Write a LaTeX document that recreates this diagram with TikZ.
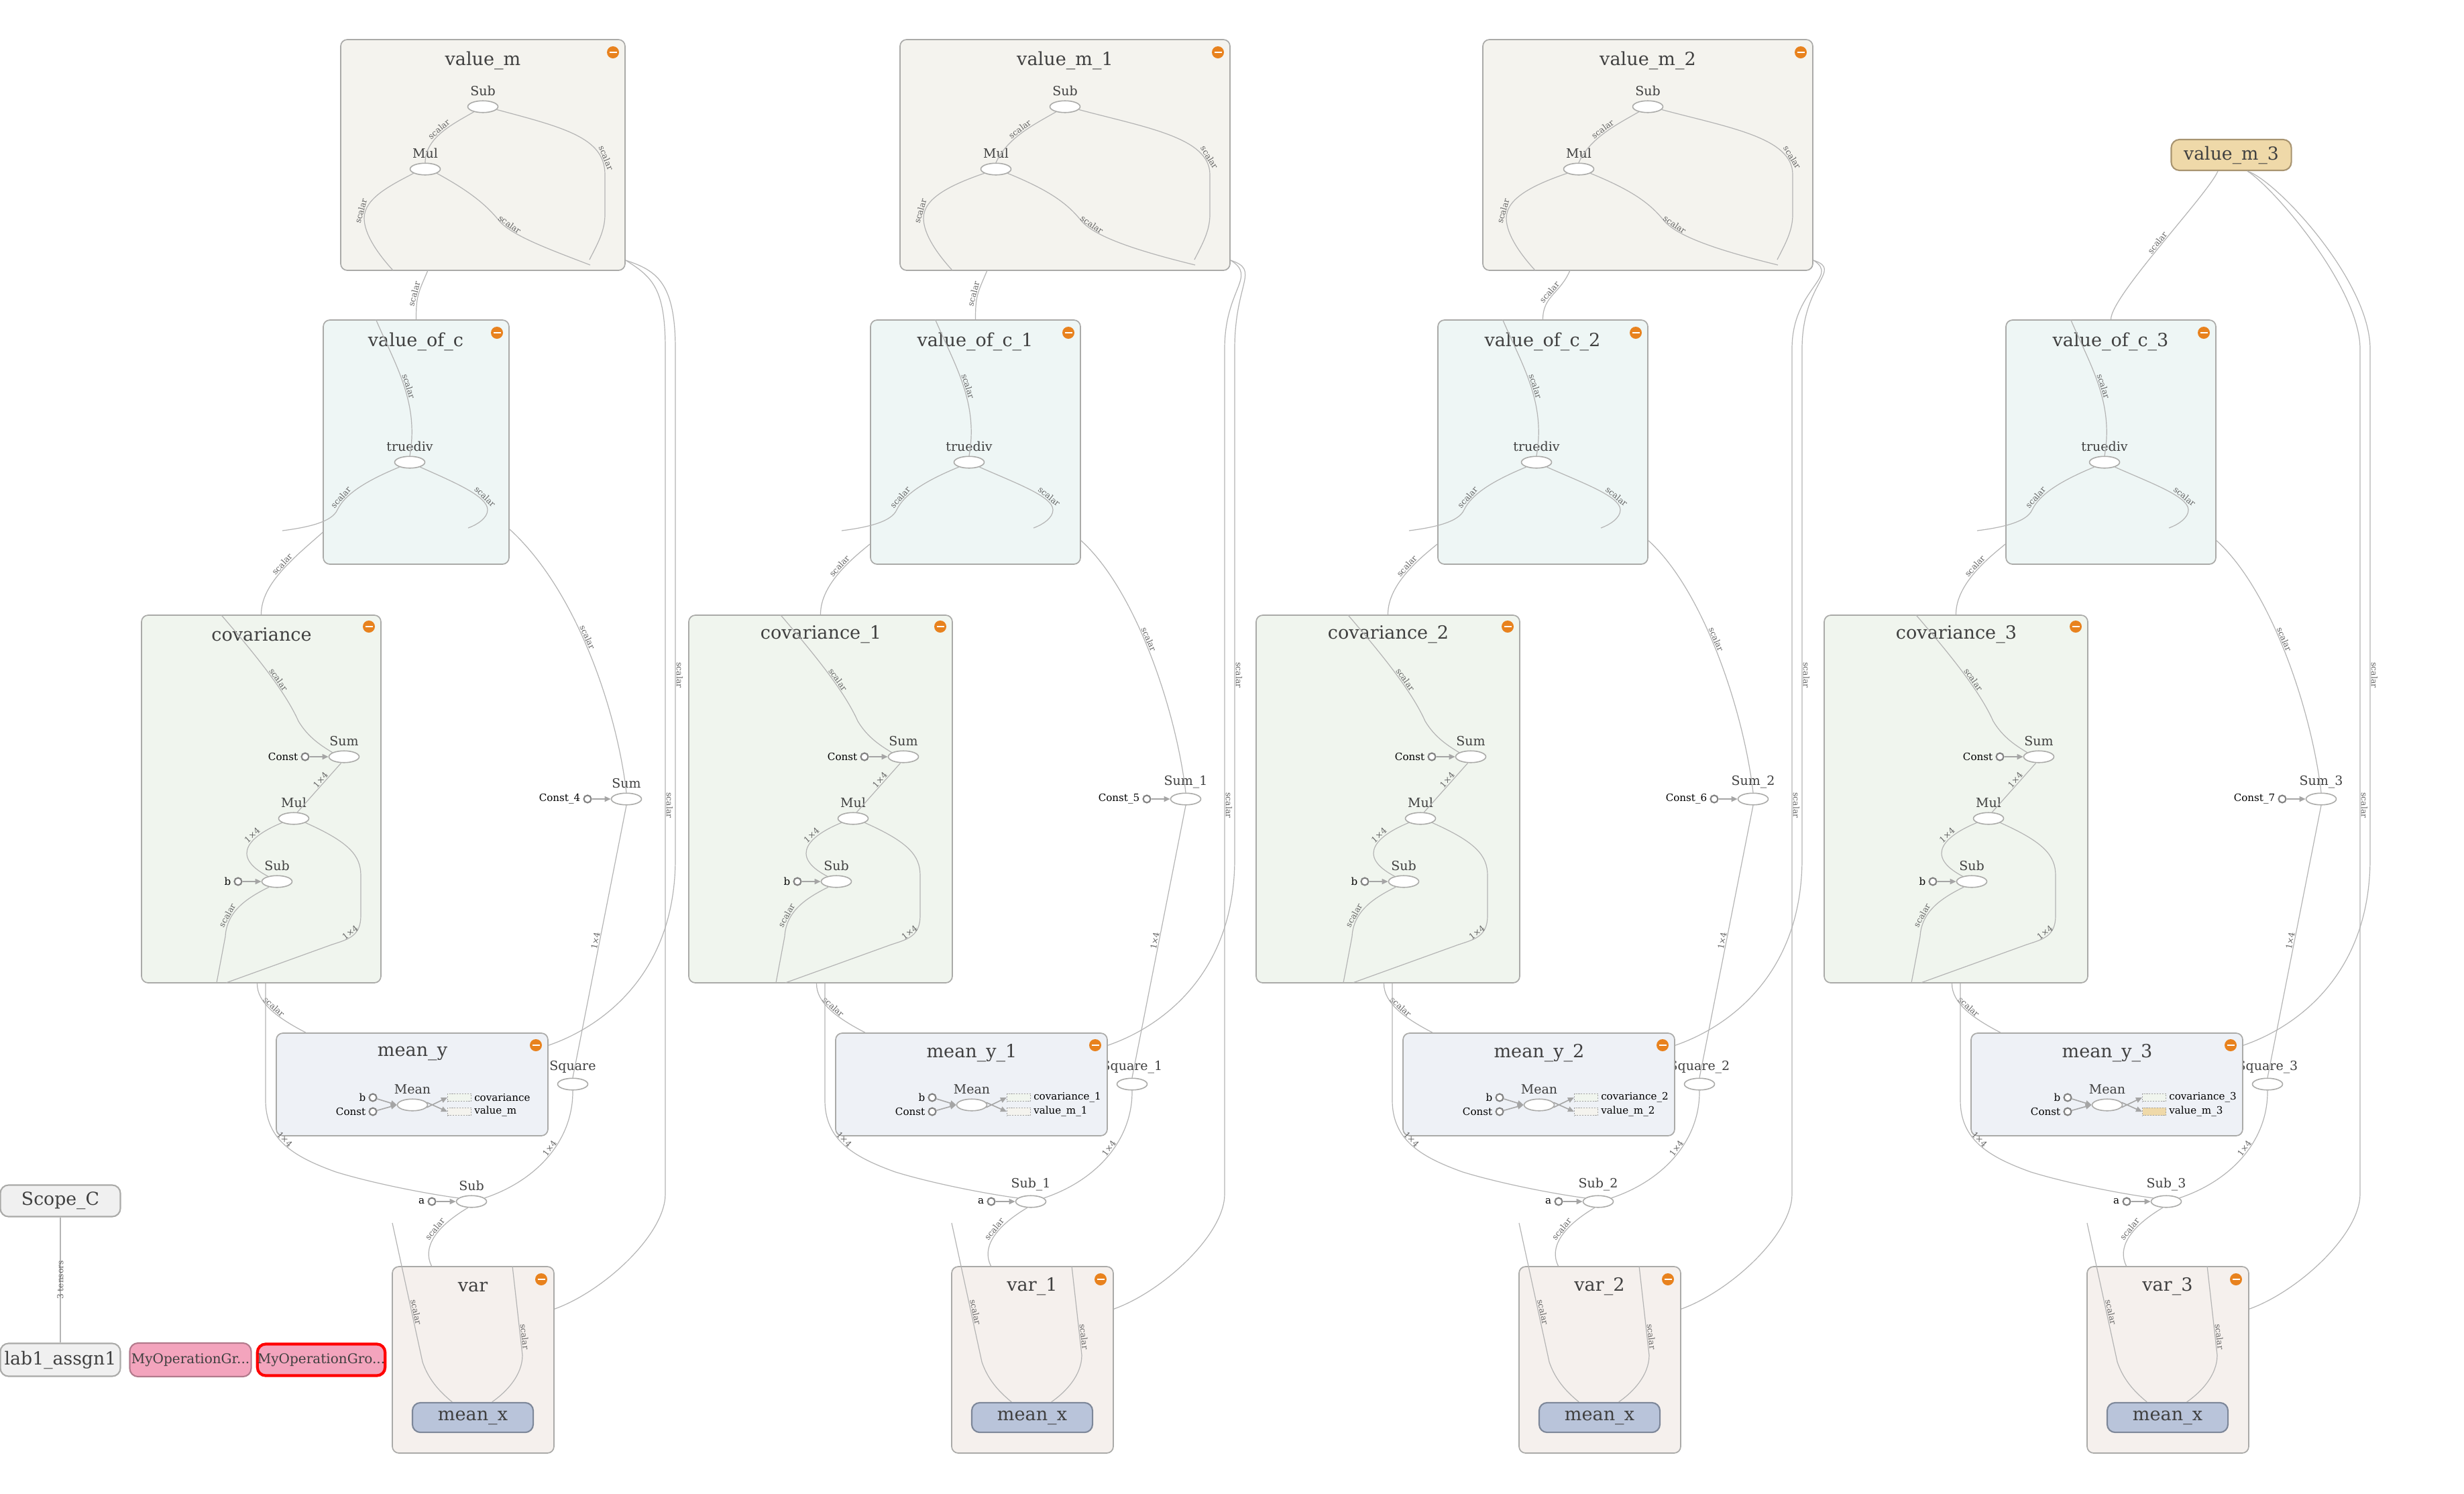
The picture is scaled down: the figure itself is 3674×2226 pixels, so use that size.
\documentclass[tikz,border=0pt]{standalone}
\usepackage{fontspec}
\setmainfont{DejaVu Serif}
\usepackage{xcolor}
\usetikzlibrary{arrows.meta,fit,shapes.geometric}
\definecolor{tbEdge}{RGB}{180,180,180}
\definecolor{tbArrow}{RGB}{165,165,165}
\definecolor{tbBorder}{RGB}{170,170,168}
\definecolor{tbText}{RGB}{64,64,64}
\definecolor{tbElab}{RGB}{100,100,100}
\definecolor{tbConst}{RGB}{130,130,130}
\definecolor{tbOrange}{RGB}{232,130,30}
\definecolor{vmFill}{RGB}{244,243,238}
\definecolor{vcFill}{RGB}{238,246,245}
\definecolor{cvFill}{RGB}{240,245,238}
\definecolor{myFill}{RGB}{238,241,246}
\definecolor{vrFill}{RGB}{245,240,237}
\definecolor{mxFill}{RGB}{185,196,218}
\definecolor{mxBorder}{RGB}{125,135,153}
\definecolor{scFill}{RGB}{240,240,240}
\definecolor{moFill}{RGB}{243,164,189}
\definecolor{moBorder}{RGB}{178,122,140}
\definecolor{vmcFill}{RGB}{239,217,169}
\definecolor{vmcBorder}{RGB}{168,148,112}
\newcommand{\sfx}[1]{\ifnum#1>0 \_#1\fi}

\begin{document}
\begin{tikzpicture}[x=0.01cm,y=-0.01cm,
  grp/.style={draw=tbBorder,line width=0.48pt,rounded corners=2.8pt,inner sep=0pt},
  ttl/.style={font=\fontsize{7.7}{9}\selectfont,text=tbText},
  op/.style={ellipse,draw=tbBorder,fill=white,line width=0.45pt,minimum width=4.5mm,minimum height=1.75mm,inner sep=0pt},
  oplab/.style={font=\fontsize{5.4}{6}\selectfont,text=tbText,inner sep=0.5pt,label distance=1.2pt},
  cst/.style={circle,draw=tbConst,fill=white,line width=0.6pt,minimum size=1.1mm,inner sep=0pt},
  cstlab/.style={font=\fontsize{4.3}{5}\selectfont,inner sep=0.6pt,label distance=0.4pt},
  edg/.style={draw=tbEdge,line width=0.34pt},
  aedg/.style={draw=tbArrow,line width=0.45pt,-{Triangle[length=0.9mm,width=0.8mm]}},
  elab/.style={font=\fontsize{3.5}{4}\selectfont,text=tbElab,sloped,above,inner sep=0.3pt},
  mns/.style={circle,fill=tbOrange,minimum size=1.8mm,inner sep=0pt,
    path picture={\draw[white,line width=0.8pt] ([xshift=0.35mm]path picture bounding box.west) -- ([xshift=-0.35mm]path picture bounding box.east);}},
  dsh/.style={draw=tbElab!60,dash pattern=on 0.6pt off 0.5pt,line width=0.3pt,minimum width=3.5mm,minimum height=1.15mm,inner sep=0pt},
  mxnode/.style={draw=mxBorder,fill=mxFill,line width=0.6pt,rounded corners=3.4pt,minimum width=1.8cm,minimum height=4.3mm,font=\fontsize{7.7}{9}\selectfont,text=tbText},
  coll/.style={rounded corners=3.5pt,line width=0.6pt,minimum height=4.6mm,inner sep=0pt,font=\fontsize{7.6}{9}\selectfont,text=tbText}]
\useasboundingbox (0,0) rectangle (3674,2226);
\fill[white] (0,0) rectangle (3674,2226);

% value_m groups
\foreach \mx/\mw/\i in {0/0/0,868/34/1,1737/34/2}{
\begin{scope}[shift={(\mx,0)}]
\node[grp,fill=vmFill,fit={(508-\mw,59) (932+\mw,403)}] (vm-\i) {};
\node[ttl] (vmt-\i) at (720,90) {value\_m\sfx{\i}};
\node[mns] at (914+\mw,78) {};
\node[op,label={[oplab]above:Sub}] (vms-\i) at (720,159) {};
\node[op,label={[oplab]above:Mul}] (vmm-\i) at (634-\mw/2,252) {};
\coordinate (vmo-\i) at (638-\mw,403);
\coordinate (vmr-\i) at (933+\mw,388);
\coordinate (vmA-\i) at (879+\mw,387);
\coordinate (vmB-\i) at (586-\mw,403);
\coordinate (vmC-\i) at (880+\mw,395);
\draw[edg] (vms-\i.210) .. controls (675,185) and (634,205) .. node[elab]{scalar} (vmm-\i.north);
\draw[edg] (vms-\i.-12) .. controls (840,190) and (902+\mw,205) .. node[elab,pos=0.85]{scalar} (902+\mw,260)
  -- (902+\mw,320) .. controls (902+\mw,345) and (890+\mw,365) .. (vmA-\i);
\draw[edg] (vmm-\i.200) .. controls (585-\mw,275) and (543-\mw,295) .. node[elab,pos=0.9]{scalar} (543-\mw,325)
  .. controls (543-\mw,350) and (565-\mw,380) .. (vmB-\i);
\draw[edg] (vmm-\i.-20) .. controls (700,285) and (725,305) .. (745,330)
  .. controls (765,352) and (820,372) .. node[elab,pos=0.15]{scalar} (vmC-\i);
\end{scope}
}
\node[coll,fill=vmcFill,draw=vmcBorder,minimum width=1.79cm] (vm-3) at (3327,231) {value\_m\_3};
\coordinate (vmo-3) at ([xshift=-2mm]vm-3.south);
\coordinate (vmr-3) at ([xshift=2.4mm]vm-3.south);

% the four columns
\foreach \dx/\w/\i/\vf in {0/0/0/vmFill,834/18/1/vmFill,1680/18/2/vmFill,2527/18/3/vmcFill}{
\pgfmathtruncatemacro{\cn}{\i+4}
\begin{scope}[shift={(\dx,0)}]
% value_of_c
\node[grp,fill=vcFill,fit={(482-\w,477) (759+\w,841)}] (vc-\i) {};
\node[ttl] at (620,509) {value\_of\_c\sfx{\i}};
\node[mns] at (741+\w,496) {};
\node[op,label={[oplab]above:truediv}] (td-\i) at (611,689) {};
\coordinate (tdL-\i) at (421,791);
\coordinate (tdR-\i) at (698+\w/2,787);
\draw[edg] ([xshift=-6mm]vc-\i.north) .. controls (590,545) and (625,600) .. node[elab,pos=0.52]{scalar} (td-\i.north);
\draw[edg] (td-\i.205) .. controls (550,715) and (515,735) .. node[elab,pos=0.8]{scalar} (503,760)
  .. controls (495,778) and (460,786) .. (tdL-\i);
\draw[edg] (td-\i.-25) .. controls (680,720) and (727+\w/2,740) .. node[elab,pos=0.75]{scalar} (727+\w/2,760)
  .. controls (727+\w/2,772) and (712+\w/2,782) .. (tdR-\i);
\draw[edg] (vmo-\i) .. controls +(-15,35) and +(0,-35) .. node[elab]{scalar} (vc-\i.north);
% covariance
\node[grp,fill=cvFill,fit={(211-\w,917) (568+\w,1465)}] (cv-\i) {};
\node[ttl] at (390,946) {covariance\sfx{\i}};
\node[mns] at (550+\w,934) {};
\node[op,label={[oplab]above:Sum}] (cs-\i) at (513,1128) {};
\node[cst,label={[cstlab]left:Const}] (cc-\i) at (455,1128) {};
\node[op,label={[oplab]above:Mul}] (cm-\i) at (438,1220) {};
\node[op,label={[oplab]above:Sub}] (cb-\i) at (413,1314) {};
\node[cst,label={[cstlab]left:b}] (cbb-\i) at (355,1314) {};
\coordinate (cvL-\i) at (323,1465);
\coordinate (cvR-\i) at (337,1465);
\draw[aedg] (cc-\i) -- (cs-\i);
\draw[aedg] (cbb-\i) -- (cb-\i);
\draw[edg] ([xshift=-6mm]cv-\i.north) .. controls (380,975) and (425,1030) .. node[elab,pos=0.6]{scalar} (445,1075)
  .. controls (460,1100) and (480,1112) .. (cs-\i.160);
\draw[edg] (cs-\i.245) -- node[elab,pos=0.4]{1×4} (cm-\i.60);
\draw[edg] (cm-\i.200) .. controls (375,1245) and (340,1275) .. node[elab,pos=0.35]{1×4} (cb-\i.150);
\draw[edg] (cb-\i.215) .. controls (365,1340) and (338,1360) .. node[elab,pos=0.7]{scalar} (336,1396) -- (cvL-\i);
\draw[edg] (cm-\i.-20) .. controls (520,1255) and (538,1275) .. (538,1305) -- (538,1365)
  .. controls (538,1395) and (520,1400) .. node[elab,pos=0.5]{1×4} (495,1408) -- (cvR-\i);
\draw[edg] (vc-\i.224) .. controls (440,830) and (389,870) .. node[elab,pos=0.45]{scalar} (cv-\i.north);
% Sum and Square
\node[op,label={[oplab]above:Sum\sfx{\i}}] (su-\i) at (934,1191) {};
\node[cst,label={[cstlab]left:Const\_\cn}] (sc-\i) at (876,1191) {};
\draw[aedg] (sc-\i) -- (su-\i);
\draw[edg] (vc-\i.-43) .. controls (860,880) and (920,1060) .. node[elab,pos=0.45]{scalar} (su-\i.north);
\node[op,label={[oplab]above:Square\sfx{\i}}] (sq-\i) at (854,1616) {};
\draw[edg] (su-\i.south) -- node[elab]{1×4} (sq-\i.north);
% mean_y
\node[grp,fill=myFill,fit={(412,1540) (817,1693)}] (my-\i) {};
\node[ttl] at (615,1570) {mean\_y\sfx{\i}};
\node[mns] at (799,1558) {};
\node[op,label={[oplab]above:Mean}] (mn-\i) at (615,1647) {};
\node[cst,label={[cstlab]left:b}] (mb-\i) at (556,1636) {};
\node[cst,label={[cstlab]left:Const}] (mc-\i) at (556,1657) {};
\node[dsh,fill=cvFill,label={[cstlab]right:covariance\sfx{\i}}] (dc-\i) at (685,1636) {};
\node[dsh,fill=\vf,label={[cstlab]right:value\_m\sfx{\i}}] (dv-\i) at (685,1657) {};
\draw[aedg] (mb-\i) -- (mn-\i.west);
\draw[aedg] (mc-\i) -- (mn-\i.west);
\draw[aedg] (mn-\i.-10) -- (dc-\i.west);
\draw[aedg] (mn-\i.10) -- (dv-\i.west);
\draw[edg] ([xshift=-0.6mm]cv-\i.south) .. controls (383,1495) and (415,1518) .. node[elab]{scalar} (my-\i.154);
% outer Sub
\node[op,label={[oplab]above:Sub\sfx{\i}}] (os-\i) at (703,1791) {};
\node[cst,label={[cstlab]left:a}] (oa-\i) at (644,1791) {};
\draw[aedg] (oa-\i) -- (os-\i);
\draw[edg] ([xshift=0.65mm]cv-\i.south) -- (396,1640) .. controls (396,1700) and (440,1725) .. node[elab,pos=0.45]{1×4} (501,1747)
  .. controls (560,1765) and (640,1780) .. (os-\i.165);
\draw[edg] (sq-\i.south) .. controls (855,1700) and (800,1760) .. node[elab,pos=0.45]{1×4} (os-\i.15);
% var
\node[grp,fill=vrFill,fit={(585,1888) (826,2166)}] (vr-\i) {};
\node[ttl] at (705,1918) {var\sfx{\i}};
\node[mns] at (807,1907) {};
\node[mxnode] (mx-\i) at (705,2113) {mean\_x};
\coordinate (vf-\i) at (585,1823);
\draw[edg] (os-\i.240) .. controls (648,1830) and (630,1860) .. node[elab,pos=0.4]{scalar} ([xshift=-6.2mm]vr-\i.north);
\draw[edg] (vf-\i) -- node[elab,pos=0.65]{scalar} (630,2030) .. controls (640,2060) and (660,2078) .. (mx-\i.143);
\draw[edg] ([xshift=5.85mm]vr-\i.north) -- node[elab,pos=0.8]{scalar} (779,2020) .. controls (779,2050) and (755,2075) .. (mx-\i.39);
% value_m to mean_y and var
\draw[edg] (vmr-\i) .. controls +(45,15) and (1007,420) .. (1007,520) -- node[elab,pos=0.64]{scalar} (1007,1280)
  .. controls (1007,1450) and (900,1530) .. (my-\i.16);
\draw[edg] (vmr-\i) .. controls +(40,25) and (992,430) .. (992,520) -- node[elab,pos=0.54]{scalar} (992,1780)
  .. controls (992,1840) and (900,1925) .. (vr-\i.32);
\end{scope}
}

% loose nodes
\node[coll,fill=scFill,draw=tbBorder,minimum width=1.79cm,minimum height=4.7mm] (scope) at (90,1790) {Scope\_C};
\node[coll,fill=scFill,draw=tbBorder,minimum width=1.79cm,minimum height=4.9mm] (lab) at (90,2027) {lab1\_assgn1};
\draw[edg] (lab) -- node[elab,anchor=center]{3 tensors} (scope);
\node[coll,fill=moFill,draw=moBorder,minimum width=1.81cm,minimum height=5mm,font=\fontsize{5.7}{7}\selectfont] (grpa) at (284,2027) {MyOperationGr...};
\node[coll,fill=moFill,draw=red,line width=1.2pt,minimum width=1.79cm,minimum height=4.7mm,font=\fontsize{5.7}{7}\selectfont] (grpb) at (479,2027) {MyOperationGro...};
\end{tikzpicture}
\end{document}
